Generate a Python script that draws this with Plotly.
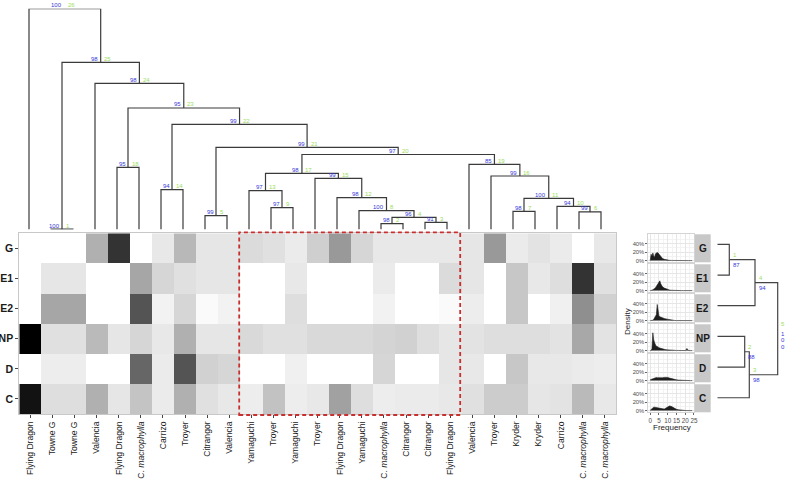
import plotly.graph_objects as go

W, H = 785, 480

def px(p):
    return p / W

def py(p):
    return 1 - p / H

# ---------------- data ----------------
col_labels = ["Flying Dragon", "Towne G", "Towne G", "Valencia", "Flying Dragon", "C. <i>macrophylla</i>",
              "Carrizo", "Troyer", "Citrangor", "Valencia", "Yamaguchi", "Troyer", "Yamaguchi", "Troyer",
              "Flying Dragon", "Yamaguchi", "C. <i>macrophylla</i>", "Citrangor", "Citrangor", "Flying Dragon",
              "Valencia", "Troyer", "Kryder", "Kryder", "Carrizo", "C. <i>macrophylla</i>", "C. <i>macrophylla</i>"]
row_labels = ["G", "E1", "E2", "NP", "D", "C"]

# darkness (0 = white, 100 = black)
row_G  = [0, 0, 0, 31, 80, 0, 9, 28, 10, 10, 14, 12, 8, 19, 40, 16, 9, 9, 9, 9, 10, 40, 8, 11, 8, 0, 9]
row_E1 = [0, 10, 10, 0, 0, 35, 16, 12, 10, 10, 0, 0, 9, 0, 0, 0, 8, 0, 0, 14, 10, 0, 22, 9, 13, 80, 12]
row_E2 = [0, 35, 35, 0, 0, 67, 5, 16, 2, 5, 0, 0, 13, 0, 0, 0, 5, 0, 0, 2, 7, 0, 22, 0, 6, 44, 18]
row_NP = [100, 12, 12, 27, 10, 16, 9, 31, 10, 10, 15, 12, 12, 15, 15, 15, 17, 18, 13, 10, 11, 13, 13, 13, 11, 34, 11]
row_D  = [0, 7, 7, 0, 0, 60, 8, 67, 18, 16, 0, 0, 6, 0, 0, 0, 16, 0, 0, 10, 9, 0, 22, 9, 9, 8, 7]
row_C  = [93, 13, 13, 31, 10, 23, 8, 31, 12, 9, 7, 24, 7, 9, 37, 13, 7, 8, 8, 9, 12, 20, 20, 10, 11, 27, 9]
heat_z = [row_G, row_E1, row_E2, row_NP, row_D, row_C]

# top dendrogram (hclust-style merges: negative = leaf index, 1-based; positive = earlier merge)
merge_left   = [-2, -17, -19, 2, -9, -26, -23, -16, -12, -25, 7, -15, -11, -7, -14, -22, 13, -5, -21, 17, 5, 14, 18, -4, 1, -1]
merge_right  = [-3, -18, -20, 3, -10, -27, -24, 4, -13, 6, 10, 8, 9, -8, 12, 11, 15, -6, 16, 19, 20, 21, 22, 23, 24, 25]
merge_height = [0.3, 5.8, 7.2, 12.2, 13.8, 17.6, 18.2, 18.8, 21.8, 23.2, 31.2, 31.8, 38.8, 39.8, 51.2, 53.5,
                 56.2, 62.2, 65.2, 75.0, 82.2, 105.2, 121.5, 146.2, 167.2, 220.8]
merge_au     = [100, 98, 91, 96, 99, 99, 98, 100, 97, 94, 100, 98, 97, 94, 99, 99, 98, 95, 85, 97, 99, 99, 95, 98, 98, 100]

# density facets
dens_x  = [0, 0.5, 1, 1.5, 2, 2.5, 3, 3.5, 4, 4.5, 5, 5.5, 6, 7, 8, 9, 10, 11, 12, 13, 14, 15, 16, 17, 18, 19, 20, 20.5, 21, 21.5, 22, 23, 24]
dens_G  = [0.0, 0.15, 0.10, 0.18, 0.11, 0.08, 0.16, 0.18, 0.19, 0.18, 0.15, 0.11, 0.08, 0.05, 0.03, 0.017, 0.01, 0.006, 0.004, 0.002, 0, 0, 0, 0, 0, 0, 0, 0, 0, 0, 0, 0, 0]
dens_E1 = [0, 0, 0.01, 0.02, 0.03, 0.05, 0.07, 0.10, 0.13, 0.17, 0.21, 0.23, 0.16, 0.09, 0.06, 0.04, 0.025, 0.015, 0.008, 0.004, 0.002, 0, 0, 0, 0, 0, 0, 0, 0, 0, 0, 0, 0]
dens_E2 = [0, 0, 0.005, 0.01, 0.03, 0.06, 0.09, 0.14, 0.38, 0.17, 0.11, 0.09, 0.08, 0.065, 0.05, 0.04, 0.03, 0.02, 0.012, 0.006, 0.003, 0.001, 0, 0, 0, 0, 0, 0, 0, 0, 0, 0, 0]
dens_NP = [0, 0, 0.05, 0.42, 0.25, 0.17, 0.13, 0.11, 0.09, 0.08, 0.07, 0.06, 0.05, 0.04, 0.03, 0.02, 0.015, 0.012, 0.01, 0.008, 0.006, 0.004, 0.003, 0.002, 0.001, 0.001, 0.002, 0.02, 0.05, 0.01, 0.001, 0, 0]
dens_D  = [0.02, 0.03, 0.04, 0.05, 0.06, 0.07, 0.075, 0.072, 0.068, 0.065, 0.063, 0.062, 0.062, 0.066, 0.075, 0.08, 0.075, 0.06, 0.045, 0.035, 0.025, 0.018, 0.012, 0.008, 0.005, 0.003, 0.002, 0.001, 0.001, 0, 0, 0, 0]
dens_C  = [0.01, 0.03, 0.05, 0.07, 0.08, 0.08, 0.075, 0.07, 0.06, 0.055, 0.05, 0.045, 0.04, 0.03, 0.035, 0.06, 0.09, 0.11, 0.10, 0.07, 0.045, 0.03, 0.02, 0.012, 0.007, 0.004, 0.002, 0.001, 0, 0, 0, 0, 0]
dens_series = [dens_G, dens_E1, dens_E2, dens_NP, dens_D, dens_C]
dens_ticks = [0, 5, 10, 15, 20, 25]

# right dendrogram (rows)
rmerge_left   = [-1, -4, 2, 1, 4]
rmerge_right  = [-2, -5, -6, -3, 3]
rmerge_height = [12.0, 27.4, 32.0, 37.7, 60.4]
rmerge_au     = ["87", "88", "98", "94", "100"]

# ---------------- figure ----------------
fig = go.Figure()
BLUE = "#3838d8"
GREEN = "#9ade62"
LINE = "#3a3a3a"
FONT = "Liberation Sans, Arial, sans-serif"
LBL = 6

# heatmap
n_cols = len(col_labels)
fig.add_trace(go.Heatmap(
    z=heat_z, x=list(range(n_cols)), y=list(range(len(row_labels))),
    colorscale=[[0, "#ffffff"], [1, "#000000"]], zmin=0, zmax=100,
    showscale=False, xaxis="x", yaxis="y", hoverinfo="skip"))

# top dendrogram
def node_pos(ref, xs, hs):
    if ref < 0:
        return (-ref - 1, 0.0)
    return (xs[ref - 1], hs[ref - 1])

nx, nh = [], []
dx, dy = [], []
for l, r, h in zip(merge_left, merge_right, merge_height):
    lx, lh = node_pos(l, nx, nh)
    rx, rh = node_pos(r, nx, nh)
    dx += [lx, lx, rx, rx, None]
    dy += [lh, h, h, rh, None]
    nx.append((lx + rx) / 2)
    nh.append(h)
fig.add_trace(go.Scatter(x=dx, y=dy, mode="lines", line=dict(color=LINE, width=1.2),
                         xaxis="x2", yaxis="y2", hoverinfo="skip", showlegend=False))

annotations = []
for k, (x, h, au) in enumerate(zip(nx, nh, merge_au), start=1):
    annotations.append(dict(x=x, y=h, xref="x2", yref="y2", text=str(au), showarrow=False,
                            xanchor="right", yanchor="bottom", xshift=-0.5, yshift=-1.5,
                            font=dict(size=LBL, color=BLUE, family=FONT)))
    annotations.append(dict(x=x, y=h, xref="x2", yref="y2", text=str(k), showarrow=False,
                            xanchor="left", yanchor="bottom", xshift=1.5, yshift=-1.5,
                            font=dict(size=LBL, color=GREEN, family=FONT)))

# red dashed box around Yamaguchi .. Flying Dragon
fig.add_shape(type="rect", xref="x", yref="paper", x0=9.45, x1=19.45, y0=py(415), y1=py(232.3),
              line=dict(color="#c83030", width=1.8, dash="4px,3px"), fillcolor="rgba(0,0,0,0)", layer="above")

# density facets
panel_top0 = 234.3
panel_step = 30.0
panel_h = 28.0
px_left, px_right, strip_right = 648.3, 694.3, 710.7
layout_axes = {}
for i, (lab, dens) in enumerate(zip(row_labels, dens_series)):
    ax = i + 3
    top = panel_top0 + i * panel_step
    bot = top + panel_h
    fig.add_trace(go.Scatter(x=dens_x, y=dens, mode="lines", fill="tozeroy",
                             line=dict(color="#1e1e1e", width=0.6), fillcolor="#1e1e1e",
                             xaxis=f"x{ax}", yaxis=f"y{ax}", hoverinfo="skip", showlegend=False))
    last = (i == len(row_labels) - 1)
    layout_axes[f"xaxis{ax}"] = dict(
        domain=[px(px_left), px(px_right)], anchor=f"y{ax}", range=[-1.1, 25.2], automargin=False,
        tickvals=dens_ticks, ticktext=[str(t) for t in dens_ticks], showticklabels=last, tickangle=0,
        tickfont=dict(size=6.3, color="#4d4d4d", family=FONT), ticks="outside" if last else "",
        ticklen=2, tickcolor="#666666",
        showgrid=True, gridcolor="#e6e6e6", gridwidth=0.6,
        minor=dict(dtick=2.5, showgrid=True, gridcolor="#f3f3f3", gridwidth=0.5, tick0=0),
        zeroline=False, showline=True, mirror=True, linecolor="#d4d4d4", linewidth=0.8,
        fixedrange=True)
    layout_axes[f"yaxis{ax}"] = dict(
        domain=[py(bot), py(top)], anchor=f"x{ax}", range=[-0.04, 0.62], automargin=False,
        tickvals=[0, 0.2, 0.4], ticktext=["0%", "20%", "40%"], tickangle=0,
        tickfont=dict(size=5.8, color="#4d4d4d", family=FONT), ticks="outside", ticklen=2,
        tickcolor="#666666",
        showgrid=True, gridcolor="#e6e6e6", gridwidth=0.6,
        minor=dict(tickvals=[0.1, 0.3, 0.5], showgrid=True, gridcolor="#f3f3f3", gridwidth=0.5),
        zeroline=False, showline=True, mirror=True, linecolor="#d4d4d4", linewidth=0.8,
        fixedrange=True)
    fig.add_shape(type="rect", xref="paper", yref="paper", x0=px(px_right), x1=px(strip_right),
                  y0=py(bot), y1=py(top), fillcolor="#c8c8c8", line=dict(width=0), layer="below")
    annotations.append(dict(x=px((px_right + strip_right) / 2), y=py((top + bot) / 2), xref="paper", yref="paper",
                            text=f"<b>{lab}</b>", showarrow=False, xanchor="center", yanchor="middle",
                            font=dict(size=10, color="#1a1a1a", family=FONT)))

annotations.append(dict(x=px(627), y=py(322), xref="paper", yref="paper", text="Density", showarrow=False,
                        xanchor="center", yanchor="middle",
                        textangle=-90, font=dict(size=8, color="#222222", family=FONT)))
annotations.append(dict(x=px(671.5), y=py(427), xref="paper", yref="paper", text="Frequency", showarrow=False,
                        xanchor="center", yanchor="middle",
                        font=dict(size=8, color="#222222", family=FONT)))

# right dendrogram
rx_pos, rh_pos = [], []
rdx, rdy = [], []

def rnode(ref):
    if ref < 0:
        return (-ref - 1, 0.0)
    return (rx_pos[ref - 1], rh_pos[ref - 1])

for l, r, h in zip(rmerge_left, rmerge_right, rmerge_height):
    lp, lh = rnode(l)
    rp, rh = rnode(r)
    rdx += [lh, h, h, rh, None]
    rdy += [lp, lp, rp, rp, None]
    rx_pos.append((lp + rp) / 2)
    rh_pos.append(h)
fig.add_trace(go.Scatter(x=rdx, y=rdy, mode="lines", line=dict(color="#444444", width=1.2),
                         xaxis="x9", yaxis="y9", hoverinfo="skip", showlegend=False, cliponaxis=False))
for k, (p, h, au) in enumerate(zip(rx_pos, rh_pos, rmerge_au), start=1):
    annotations.append(dict(x=h, y=p, xref="x9", yref="y9", text=str(k), showarrow=False,
                            xanchor="left", yanchor="bottom", xshift=1.5, yshift=0,
                            font=dict(size=LBL, color=GREEN, family=FONT)))
    for j, ch in enumerate(au if len(au) > 2 else [au]):
        annotations.append(dict(x=h, y=p, xref="x9", yref="y9", text=ch, showarrow=False,
                                xanchor="left", yanchor="top", xshift=1.5, yshift=-j * 6.7,
                                font=dict(size=LBL, color=BLUE, family=FONT)))

fig.update_layout(
    width=W, height=H, margin=dict(l=0, r=0, t=0, b=0, autoexpand=False),
    paper_bgcolor="white", plot_bgcolor="white", showlegend=False,
    font=dict(family=FONT),
    xaxis=dict(domain=[px(19.3), px(616)], anchor="y", range=[-0.5, n_cols - 0.5], automargin=False,
               tickvals=list(range(n_cols)), ticktext=col_labels, tickangle=-90,
               tickfont=dict(size=8.6, color="#1a1a1a", family=FONT), ticks="outside", ticklen=3,
               tickcolor="#444444", showgrid=False, zeroline=False, showline=True, mirror=True,
               linecolor="#c8c8c8", linewidth=1, fixedrange=True),
    yaxis=dict(domain=[py(414), py(233.3)], anchor="x", range=[5.5, -0.5], automargin=False,
               tickvals=list(range(len(row_labels))), ticktext=[f"<b>{r}</b>" for r in row_labels],
               tickfont=dict(size=10.5, color="#1a1a1a", family=FONT), ticks="outside", ticklen=3,
               tickcolor="#444444", showgrid=False, zeroline=False, showline=True, mirror=True,
               linecolor="#c8c8c8", linewidth=1, fixedrange=True),
    xaxis2=dict(domain=[px(18), px(612)], anchor="y2", range=[-0.5, 26.5], visible=False, fixedrange=True,
                automargin=False),
    yaxis2=dict(domain=[py(229.5), py(8.7)], anchor="x2", range=[0, 220.8], visible=False, fixedrange=True,
                automargin=False),
    xaxis9=dict(domain=[px(717.3), 1.0], anchor="y9", range=[0, 67.7], visible=False, fixedrange=True,
                automargin=False),
    yaxis9=dict(domain=[py(413.1), py(229.0)], anchor="x9", range=[5.5, -0.5], visible=False, fixedrange=True,
                automargin=False),
    annotations=annotations,
    **layout_axes,
)

fig.write_html("out.html", config={"displayModeBar": False},
               post_script="document.body.style.margin='0px';")
